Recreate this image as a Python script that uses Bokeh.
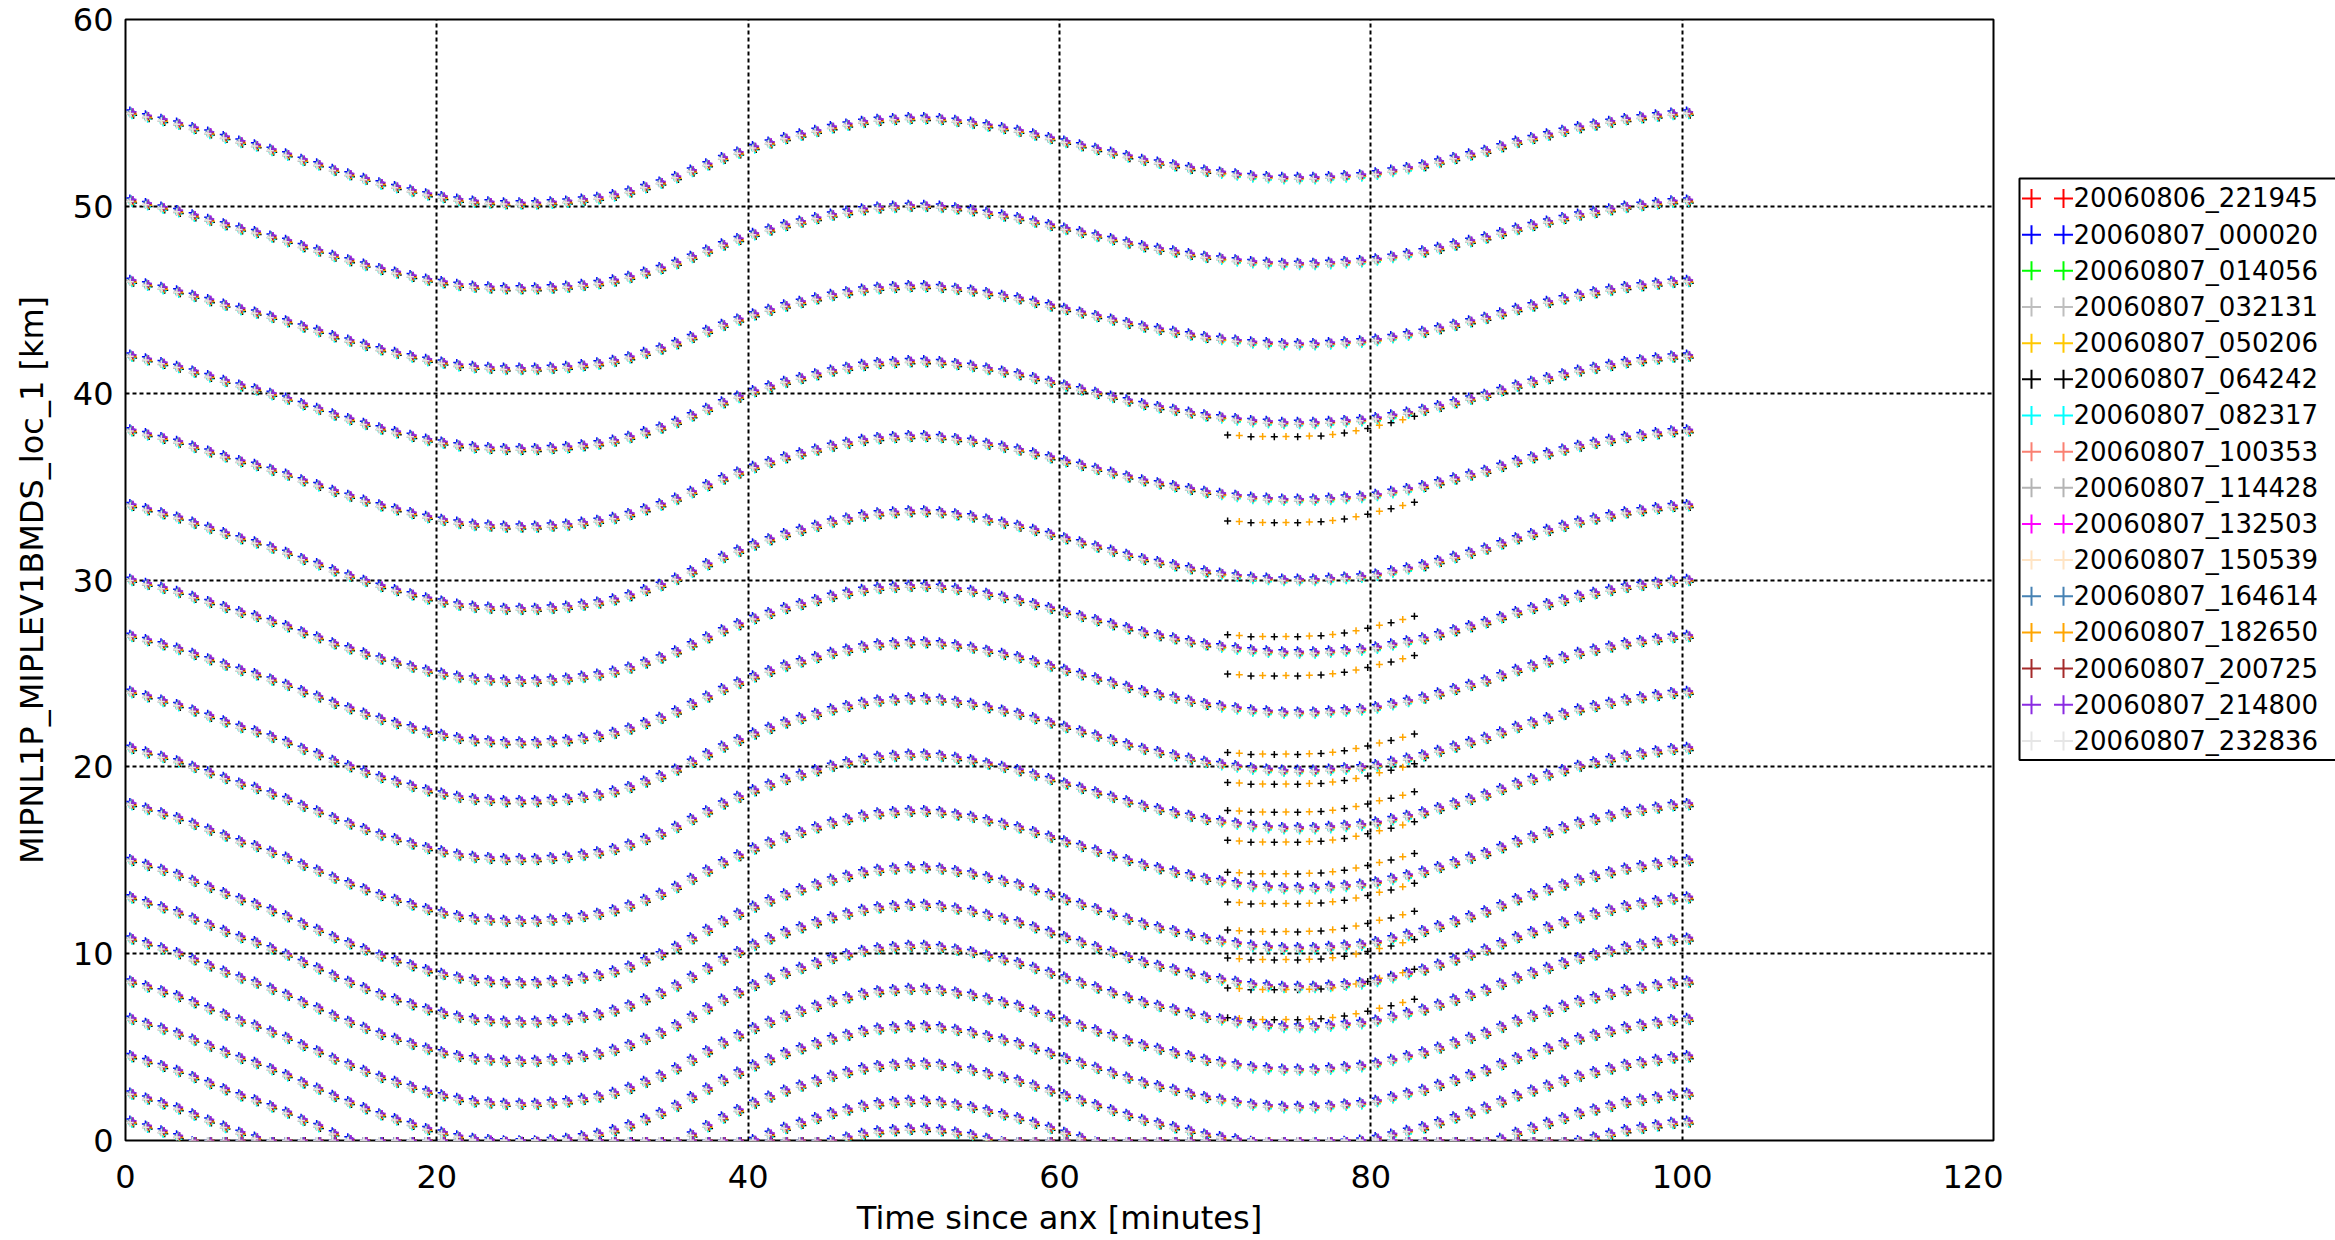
import numpy as np
from bokeh.plotting import figure
from bokeh.models import Range1d, FixedTicker, ColumnDataSource
from bokeh.layouts import row
from bokeh.embed import file_html
from bokeh.resources import INLINE
from bokeh.core.properties import value

# ---------------- data ----------------
series_labels = ["20060806_221945", "20060807_000020", "20060807_014056", "20060807_032131",
                 "20060807_050206", "20060807_064242", "20060807_082317", "20060807_100353",
                 "20060807_114428", "20060807_132503", "20060807_150539", "20060807_164614",
                 "20060807_182650", "20060807_200725", "20060807_214800", "20060807_232836"]
series_colors = ["#ff0000", "#0000ff", "#00ff00", "#bebebe", "#ffc800", "#000000",
                 "#00ffff", "#fa8072", "#b4b4b4", "#ff00ff", "#ffe4c4", "#4682b4",
                 "#ffa500", "#a52a2a", "#8a2be2", "#e6e6e6"]
# small per-orbit shifts of the scans (minutes, km)
series_dt = [0.06, -0.12, 0.03, -0.08, 0.09, 0.12, 0.02, 0.04,
             -0.12, 0.06, 0.00, -0.04, 0.09, 0.06, 0.08, -0.10]
series_dz = [0.03, 0.15, -0.10, 0.00, -0.04, -0.12, -0.15, -0.04,
             -0.06, 0.06, 0.00, 0.10, -0.06, 0.00, 0.06, -0.03]

# tangent altitude of each sweep at the ascending node crossing [km]
track_start = [55.0, 50.3, 46.0, 42.0, 38.0, 34.0, 30.0, 27.0, 24.0, 21.0,
               18.0, 15.0, 13.0, 10.8, 8.5, 6.5, 4.5, 2.5, 1.0]
# relative strength of the along-orbit altitude change for each sweep
track_amp = [0.97, 0.94, 0.94, 1.0, 1.03, 1.11, 1.08, 1.14, 1.17, 1.19,
             1.25, 1.31, 1.33, 1.31, 1.31, 1.31, 1.31, 1.31, 1.31]

# altitude change along the orbit, one value per minute (0 .. 100 min)
orbit_profile = [0.0, -0.2, -0.4, -0.6, -0.85, -1.1, -1.35, -1.6, -1.8, -2.05,
                 -2.3, -2.6, -2.85, -3.15, -3.4, -3.65, -3.9, -4.1, -4.3, -4.5,
                 -4.65, -4.8, -4.9, -4.95, -5.0, -5.0, -5.0, -4.95, -4.9, -4.8,
                 -4.7, -4.55, -4.35, -4.1, -3.85, -3.55, -3.2, -2.85, -2.5, -2.2,
                 -1.9, -1.65, -1.4, -1.2, -1.0, -0.8, -0.65, -0.5, -0.4, -0.35,
                 -0.3, -0.3, -0.35, -0.45, -0.55, -0.7, -0.85, -1.0, -1.2, -1.4,
                 -1.6, -1.8, -2.0, -2.2, -2.4, -2.6, -2.75, -2.9, -3.05, -3.2,
                 -3.3, -3.4, -3.5, -3.55, -3.6, -3.6, -3.6, -3.55, -3.5, -3.45,
                 -3.35, -3.2, -3.05, -2.9, -2.7, -2.5, -2.3, -2.1, -1.85, -1.6,
                 -1.4, -1.2, -1.0, -0.8, -0.65, -0.5, -0.35, -0.25, -0.15, -0.05, 0.0]
scan_time = [0.4 + k for k in range(101)]

# special scan block (two orbits only) between ~71 and ~83 minutes
special_orbits = ["20060807_064242", "20060807_182650"]
special_levels = [37.7, 33.1, 27.0, 24.9, 20.7, 19.1, 17.6, 16.0, 14.3,
                  12.7, 11.2, 9.7, 8.1, 6.5]
special_time = [70.8, 71.55, 72.3, 73.05, 73.8, 74.55, 75.3, 76.05, 76.8,
                77.55, 78.3, 79.05, 79.8, 80.55, 81.3, 82.05, 82.8]
special_profile = [0.1, 0.05, 0.0, 0.0, 0.0, 0.0, 0.0, 0.02, 0.05,
                   0.1, 0.2, 0.3, 0.45, 0.6, 0.75, 0.9, 1.1]

x_ticks = [0, 20, 40, 60, 80, 100, 120]
y_ticks = [0, 10, 20, 30, 40, 50, 60]

FONT = "DejaVu Sans"

# ---------------- main plot ----------------
W_MAIN, H = 2003, 1240
p = figure(width=W_MAIN, height=H, x_range=Range1d(0, 120), y_range=Range1d(0, 60),
           output_backend="svg", toolbar_location=None, title=None,
           min_border_left=125, min_border_right=10, min_border_top=19, min_border_bottom=100)
p.background_fill_color = "white"
p.border_fill_color = "white"
p.outline_line_color = "black"
p.outline_line_width = 2

for ax in (p.xaxis[0], p.yaxis[0]):
    ax.major_tick_in = 0
    ax.major_tick_out = 0
    ax.minor_tick_in = 0
    ax.minor_tick_out = 0
    ax.axis_line_color = None
    ax.major_label_text_font = FONT
    ax.major_label_text_font_size = "32px"
    ax.major_label_text_color = "black"
    ax.axis_label_text_font = FONT
    ax.axis_label_text_font_size = "32px"
    ax.axis_label_text_font_style = "normal"
    ax.axis_label_text_color = "black"

p.xaxis.ticker = FixedTicker(ticks=x_ticks)
p.yaxis.ticker = FixedTicker(ticks=y_ticks)
p.xaxis.axis_label = "Time since anx [minutes]"
p.yaxis.axis_label = "MIPNL1P_MIPLEV1BMDS_loc_1 [km]"
p.xaxis.major_label_standoff = 24
p.xaxis.axis_label_standoff = 8
p.yaxis.major_label_standoff = 12
p.yaxis.axis_label_standoff = 19

for g in (p.xgrid[0], p.ygrid[0]):
    g.grid_line_color = "black"
    g.grid_line_width = 2
    g.grid_line_dash = "4 3"
p.xgrid.ticker = FixedTicker(ticks=x_ticks)
p.ygrid.ticker = FixedTicker(ticks=y_ticks)

prof = np.array(orbit_profile)
times = np.array(scan_time)
for lab, col, dt, dz in zip(series_labels, series_colors, series_dt, series_dz):
    xs, ys = [], []
    special = lab in special_orbits
    for z0, amp in zip(track_start, track_amp):
        t = times + dt
        z = np.maximum(z0 + amp * prof + dz, 0.0)
        if special:
            keep = (t < 70.5) | (t > 83.2)
            t, z = t[keep], z[keep]
        xs.append(t)
        ys.append(z)
    if special:
        idx = range(0 if lab == special_orbits[0] else 1, len(special_time), 2)
        for lev in special_levels:
            xs.append(np.array([special_time[i] for i in idx]))
            ys.append(np.array([lev + special_profile[i] + dz * 0.3 for i in idx]))
    src = ColumnDataSource(dict(x=np.concatenate(xs), y=np.concatenate(ys)))
    p.scatter("x", "y", source=src, marker="cross", size=7, line_width=1.5,
              line_color=col, fill_color=None)

# ---------------- legend panel ----------------
W_LEG = 2335 - W_MAIN
leg = figure(width=W_LEG, height=H, x_range=Range1d(0, W_LEG), y_range=Range1d(H, 0),
             output_backend="svg", toolbar_location=None, title=None,
             x_axis_location=None, y_axis_location=None,
             min_border_left=0, min_border_right=0, min_border_top=0, min_border_bottom=0)
leg.grid.visible = False
leg.outline_line_color = None
leg.background_fill_color = "white"
leg.border_fill_color = "white"

row_y = [198 + 40 * i for i in range(len(series_labels))]
leg.quad(left=[16], right=[W_LEG + 40], top=[176], bottom=[819],
         fill_color=None, line_color="black", line_width=2)
lsrc = ColumnDataSource(dict(x1=[28] * len(row_y), x2=[60] * len(row_y), xt=[70] * len(row_y),
                             y=row_y, c=series_colors, t=series_labels))
leg.scatter("x1", "y", source=lsrc, marker="cross", size=19, line_width=2, line_color="c")
leg.scatter("x2", "y", source=lsrc, marker="cross", size=19, line_width=2, line_color="c")
leg.text("xt", "y", text="t", source=lsrc, text_font=value(FONT), text_font_size="26px",
         text_baseline="middle", text_align="left", text_color="black")

layout = row(p, leg)
open("out.html", "w").write(file_html(layout, INLINE))
